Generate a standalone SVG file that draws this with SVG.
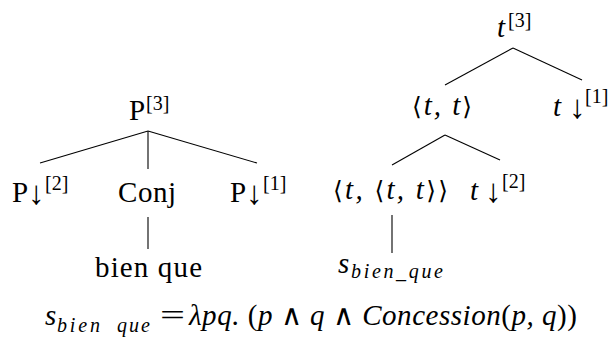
<svg xmlns="http://www.w3.org/2000/svg" width="608" height="339" viewBox="0 0 608 339">
<style>
.m{font-size:29px}
.i{font-size:29px;font-style:italic}
.s{font-size:20px}
.si{font-size:20px;font-style:italic}
.ar{font-size:33px}
line{stroke:#000;stroke-width:1.1}
</style>
<rect width="608" height="339" fill="#fff"/>
<g id="connectors">
<line x1="148" y1="131" x2="40" y2="163"/>
<line x1="148" y1="131" x2="148" y2="169"/>
<line x1="148" y1="131" x2="257" y2="163"/>
<line x1="148" y1="217" x2="148" y2="249"/>
<line x1="513" y1="48" x2="445" y2="85"/>
<line x1="513" y1="48" x2="582" y2="80"/>
<line x1="445" y1="135" x2="392" y2="165"/>
<line x1="445" y1="135" x2="500" y2="160"/>
<line x1="392" y1="215" x2="392" y2="253"/>
</g>
<g font-family="Liberation Serif, serif" fill="#000">
<g id="nodeP3"><text class="m" x="129" y="120">P</text><text class="s" x="146" y="110">[3]</text></g>
<g id="nodeP2"><text class="m" x="12" y="202">P</text><text class="ar" x="28" y="204">↓</text><text class="s" x="45" y="190">[2]</text></g>
<g id="nodeConj"><text class="m" x="118" y="202" textLength="58">Conj</text></g>
<g id="nodeP1"><text class="m" x="230" y="202">P</text><text class="ar" x="246" y="204">↓</text><text class="s" x="263" y="190">[1]</text></g>
<g id="nodeBienQue"><text class="m" x="95" y="277" textLength="107">bien que</text></g>
<g id="nodeT3"><text class="i" x="497" y="37">t</text><text class="s" x="508" y="27">[3]</text></g>
<g id="nodeTT"><text class="i" x="412" y="115" textLength="60"><tspan font-family="DejaVu Serif, serif" font-style="normal" font-size="25">⟨</tspan>t, t<tspan font-family="DejaVu Serif, serif" font-style="normal" font-size="25">⟩</tspan></text></g>
<g id="nodeT1"><text class="i" x="553" y="116">t</text><text class="ar" x="569" y="118">↓</text><text class="s" x="585" y="103">[1]</text></g>
<g id="nodeTTT"><text class="i" x="333" y="199" textLength="115"><tspan font-family="DejaVu Serif, serif" font-style="normal" font-size="25">⟨</tspan>t, <tspan font-family="DejaVu Serif, serif" font-style="normal" font-size="25">⟨</tspan>t, t<tspan font-family="DejaVu Serif, serif" font-style="normal" font-size="25">⟩⟩</tspan></text></g>
<g id="nodeT2"><text class="i" x="470" y="200">t</text><text class="ar" x="485" y="202">↓</text><text class="s" x="502" y="188">[2]</text></g>
<g id="nodeS"><text class="i" x="338" y="273">s</text><text class="si" x="351" y="278" textLength="92">bien_que</text></g>
<g id="formula">
<text class="i" x="45" y="325">s</text>
<text class="si" x="57" y="332" textLength="43">bien</text>
<text class="si" x="117" y="332" textLength="33">que</text>
<text class="m" x="160" y="325" textLength="25" lengthAdjust="spacingAndGlyphs">=</text>
<text class="i" x="189" y="325" textLength="388">λpq. <tspan font-style="normal">(</tspan>p <tspan font-style="normal">∧</tspan> q <tspan font-style="normal">∧</tspan> Concession<tspan font-style="normal">(</tspan>p, q<tspan font-style="normal">))</tspan></text>
</g>
</g>
</svg>
